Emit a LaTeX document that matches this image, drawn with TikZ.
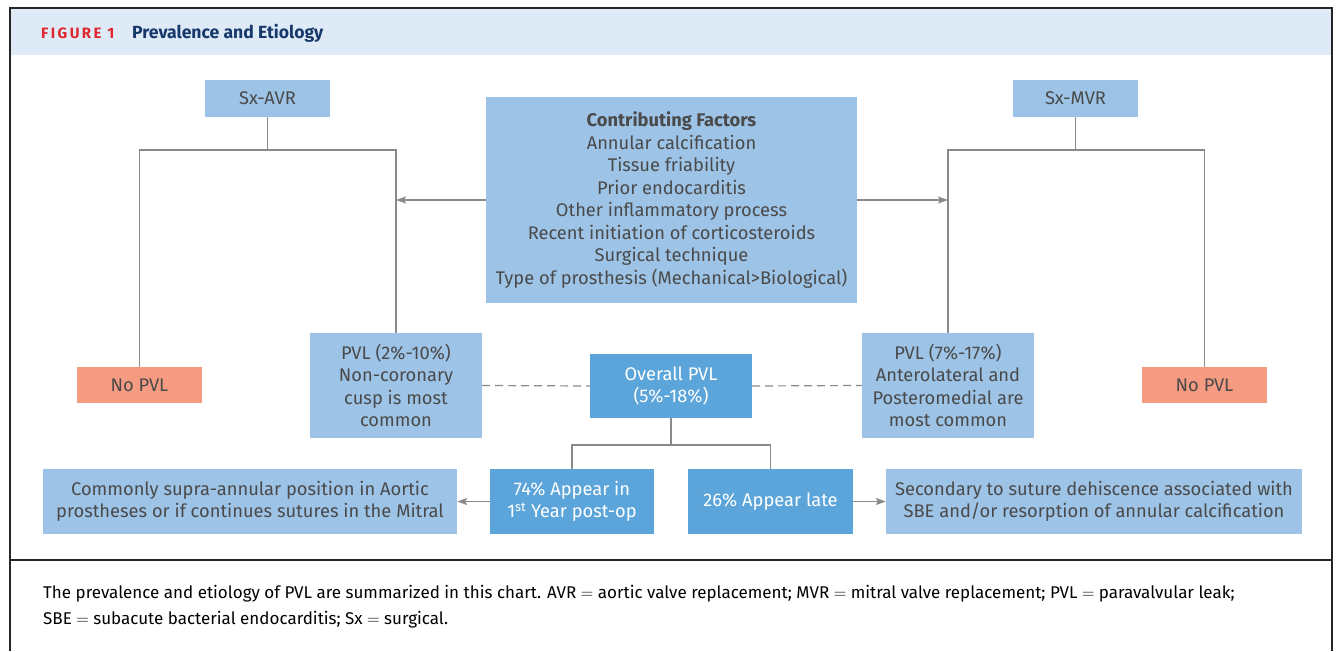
\documentclass[tikz,border=0pt]{standalone}
\usepackage{fontspec}
\setmainfont{Fira Sans}
\usetikzlibrary{positioning,arrows.meta}

\definecolor{boxblue}{HTML}{9DC3E6}
\definecolor{keyblue}{HTML}{5BA5DA}
\definecolor{salmon}{HTML}{F59B82}
\definecolor{txtgray}{HTML}{4A4A4A}
\definecolor{linegray}{HTML}{8A8A8A}
\definecolor{headblue}{HTML}{DEEAF6}
\definecolor{figred}{HTML}{E0262F}
\definecolor{navy}{HTML}{17386B}

\tikzset{
  box/.style={fill=boxblue, text=txtgray, inner sep=0, align=center,
    font=\fontsize{18.3}{22.5}\selectfont},
  keybox/.style={box, fill=keyblue, text=white},
  nobox/.style={box, fill=salmon, minimum width=125, minimum height=36},
  link/.style={draw=linegray, line width=1.5pt},
  arrow/.style={link, -{Stealth[length=10pt, width=7pt, inset=2pt]}},
  frame/.style={draw=black!85, line width=2pt},
}

\begin{document}
\begin{tikzpicture}[x=1pt, y=-1pt]
  \useasboundingbox (0,0) rectangle (1337,651);

  % frame and title band
  \fill[headblue] (10,8) rectangle (1332,55);
  \draw[frame] (10,651) -- (10,8) -- (1332,8) -- (1332,651);
  \draw[frame] (10,560) -- (1332,560);
  \node[anchor=base west, inner sep=0, text=figred,
    font=\fontsize{15}{15}\selectfont\bfseries\addfontfeature{LetterSpace=16}] (figno) at (41,38.5) {FIGURE 1};
  \node[anchor=base west, inner sep=0, text=navy,
    font=\fontsize{17.6}{17.6}\selectfont\bfseries] (title) at (132,38.5) {Prevalence and Etiology};

  % top row
  \node[box, minimum width=125, minimum height=37] (avr) at (267.5,98.5) {Sx-AVR};
  \node[box, minimum width=125, minimum height=37] (mvr) at (1075.5,98.5) {Sx-MVR};
  \node[box, minimum width=371, minimum height=206] (factors) at (671.5,200) {
    \textbf{Contributing Factors}\\
    Annular calcification\\
    Tissue friability\\
    Prior endocarditis\\
    Other inflammatory process\\
    Recent initiation of corticosteroids\\
    Surgical technique\\
    Type of prosthesis (Mechanical>Biological)};

  % middle row
  \node[nobox] (nol) at (139.5,385) {No PVL};
  \node[nobox] (nor) at (1204.5,385) {No PVL};
  \node[box, minimum width=172, minimum height=105] (pvla) at (396,385.5)
    {PVL (2\%-10\%)\\Non-coronary\\cusp is most\\common};
  \node[box, minimum width=172, minimum height=105] (pvlm) at (948,385.5)
    {PVL (7\%-17\%)\\Anterolateral and\\Posteromedial are\\most common};
  \node[keybox, minimum width=162, minimum height=64] (overall) at (671,386)
    {Overall PVL\\(5\%-18\%)};

  % bottom row
  \node[keybox, minimum width=164, minimum height=65] (early) at (572,501.5)
    {74\% Appear in\\1\textsuperscript{st} Year post-op};
  \node[keybox, minimum width=165, minimum height=65] (late) at (770.5,501.5)
    {26\% Appear late};
  \node[box, minimum width=414, minimum height=65] (supra) at (250,501.5)
    {Commonly supra-annular position in Aortic\\prostheses or if continues sutures in the Mitral};
  \node[box, minimum width=416, minimum height=65] (dehis) at (1094,501.5)
    {Secondary to suture dehiscence associated with\\SBE and/or resorption of annular calcification};

  % tree lines
  \coordinate (afork) at (267.5,150);
  \coordinate (mfork) at (1075.5,150);
  \coordinate (ofork) at (671,445);
  \draw[link] (avr) -- (afork);
  \draw[link] (nol.north) |- (afork) -| (pvla.north);
  \draw[link] (mvr) -- (mfork);
  \draw[link] (pvlm.north) |- (mfork) -| (nor.north);
  \draw[link] (overall) -- (ofork);
  \draw[link] (early.north) |- (ofork) -| (late.north);

  % arrows
  \draw[arrow] (factors.west) -- (factors.west -| pvla);
  \draw[arrow] (factors.east) -- (factors.east -| pvlm);
  \draw[arrow] (early.west) -- (supra.east);
  \draw[arrow] (late.east) -- (dehis.west);
  \draw[link, line width=1.2pt, dash pattern=on 8pt off 5pt] (pvla.east) -- (overall.west);
  \draw[link, line width=1.2pt, dash pattern=on 8pt off 5pt] (overall.east) -- (pvlm.west);

  % caption
  \node[anchor=base west, inner sep=0, font=\fontsize{17}{26}\selectfont] (cap1) at (43,598)
    {The prevalence and etiology of PVL are summarized in this chart. AVR $=$ aortic valve replacement; MVR $=$ mitral valve replacement; PVL $=$ paravalvular leak;};
  \node[anchor=base west, inner sep=0, font=\fontsize{17}{26}\selectfont] (cap2) at (43,624)
    {SBE $=$ subacute bacterial endocarditis; Sx $=$ surgical.};
\end{tikzpicture}
\end{document}
